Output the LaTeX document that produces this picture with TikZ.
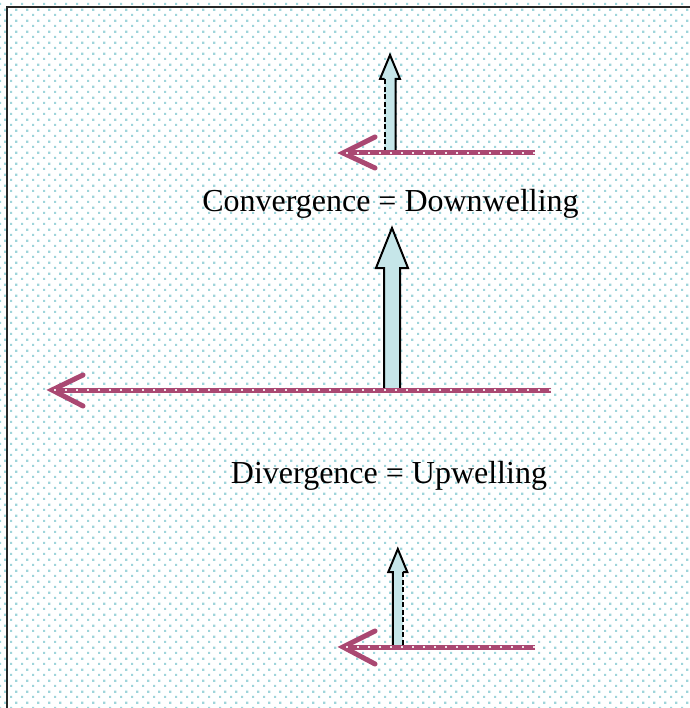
\documentclass[tikz,border=0pt]{standalone}
\usepackage{fontspec}
\setmainfont{Liberation Serif}
\usetikzlibrary{patterns}
\definecolor{dotc}{RGB}{158,212,218}
\definecolor{flowc}{RGB}{170,72,114}
\definecolor{upc}{RGB}{198,230,233}
\pgfdeclarepatternformonly{bgdots}{\pgfqpoint{0pt}{0pt}}{\pgfqpoint{11pt}{11pt}}{\pgfqpoint{11pt}{11pt}}{%
  \pgfpathrectangle{\pgfqpoint{0pt}{0pt}}{\pgfqpoint{2.4pt}{2.4pt}}%
  \pgfpathrectangle{\pgfqpoint{5.5pt}{5.5pt}}{\pgfqpoint{2.4pt}{2.4pt}}%
  \pgfusepath{fill}}
\tikzset{
  flow/.style={draw=flowc, line width=5pt},
  flowhead/.style={draw=flowc, line width=5pt, line cap=round},
  flowdots/.style={draw=white!85!flowc, line width=2.2pt, dash pattern=on 2.4pt off 8.6pt},
  upfill/.style={fill=upc},
  upline/.style={draw=black, line width=2pt, line join=miter},
  updash/.style={draw=black, line width=2pt, dash pattern=on 5pt off 2.5pt},
  label/.style={font=\fontsize{32}{36}\selectfont, anchor=base, inner sep=0pt}
}
\begin{document}
\begin{tikzpicture}[x=1pt, y=-1pt]
\useasboundingbox (0,0) rectangle (689,708);
\fill[white] (0,0) rectangle (689,708);
\fill[pattern=bgdots, pattern color=dotc] (0,0) rectangle (689,708);
\draw[black!85, line width=2.6pt] (7,709) -- (7,7) -- (690,7);

% ---------- top: convergence ----------
\coordinate (t-start) at (535,153);
\coordinate (t-tip) at (343,153);
\coordinate (t-a1) at (375,137);
\coordinate (t-a2) at (375,168);
\path[upfill] (384.5,152) -- (384.5,79) -- (380,79) -- (390,55) -- (400,79) -- (395.5,79) -- (395.5,152) -- cycle;
\draw[upline] (384.5,79) -- (380,79) -- (390,55) -- (400,79) -- (395.5,79) -- (395.5,152) -- (384.5,152);
\draw[updash] (384.5,152) -- (384.5,79);
\draw[flow] (t-start) -- (t-tip);
\draw[flowhead] (t-a1) -- (t-tip) -- (t-a2);
\draw[flowdots] (t-start) -- (t-tip);

\node[label] (conv) at (390.5,212) {Convergence = Downwelling};

% ---------- middle ----------
\coordinate (m-start) at (551,390);
\coordinate (m-tip) at (52,390);
\coordinate (m-a1) at (83,375);
\coordinate (m-a2) at (83,406);
\path[upfill] (384,389) -- (384,268) -- (376,268) -- (392,228) -- (408,268) -- (400,268) -- (400,389) -- cycle;
\draw[upline] (384,389) -- (384,268) -- (376,268) -- (392,228) -- (408,268) -- (400,268) -- (400,389) -- cycle;
\draw[flow] (m-start) -- (m-tip);
\draw[flowhead] (m-a1) -- (m-tip) -- (m-a2);
\draw[flowdots] (m-start) -- (m-tip);

\node[label] (div) at (389,483) {Divergence = Upwelling};

% ---------- bottom ----------
\coordinate (b-start) at (535,647);
\coordinate (b-tip) at (343,647);
\coordinate (b-a1) at (375,631);
\coordinate (b-a2) at (375,664);
\path[upfill] (392.8,646) -- (392.8,572) -- (388.3,572) -- (397.8,549) -- (407.3,572) -- (402.8,572) -- (402.8,646) -- cycle;
\draw[upline] (402.8,646) -- (392.8,646) -- (392.8,572) -- (388.3,572) -- (397.8,549) -- (407.3,572) -- (402.8,572);
\draw[updash] (402.8,572) -- (402.8,646);
\draw[flow] (b-start) -- (b-tip);
\draw[flowhead] (b-a1) -- (b-tip) -- (b-a2);
\draw[flowdots] (b-start) -- (b-tip);
\end{tikzpicture}
\end{document}
